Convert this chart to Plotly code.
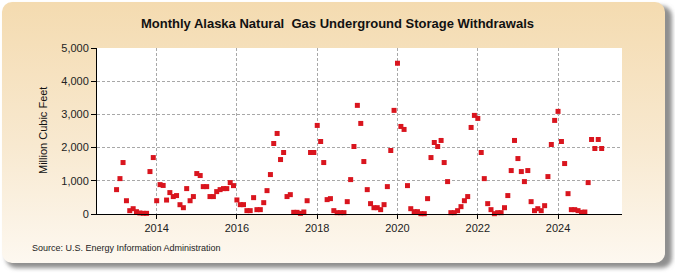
import base64
import pandas as pd
import plotly.graph_objects as go

# ---- data (Million Cubic Feet), monthly from Jan 2013 ----
start_month = "2013-01-01"
v2013 = [734, 1066, 1550, 400, 100, 160, 70, 30, 20, 20, 1278, 1700]
v2014 = [400, 885, 860, 420, 645, 525, 555, 280, 190, 765, 400, 525]
v2015 = [1218, 1158, 825, 825, 525, 525, 674, 734, 765, 765, 946, 855]
v2016 = [423, 282, 282, 101, 101, 493, 131, 131, 342, 704, 1188, 2124]
v2017 = [2426, 1640, 1852, 525, 583, 50, 50, 20, 60, 400, 1852, 1852]
v2018 = [2668, 2184, 1550, 433, 463, 101, 40, 40, 40, 372, 1036, 2033]
v2019 = [3272, 2728, 1580, 734, 312, 190, 190, 131, 282, 825, 1912, 3121]
v2020 = [4541, 2637, 2547, 855, 160, 70, 70, 10, 10, 463, 1700, 2154]
v2021 = [2033, 2215, 1550, 976, 40, 40, 100, 222, 400, 525, 2607, 2970]
v2022 = [2879, 1852, 1066, 312, 131, 10, 40, 40, 190, 555, 1308, 2215]
v2023 = [1670, 1278, 976, 1308, 372, 101, 160, 101, 251, 1127, 2094, 2819]
v2024 = [3091, 2184, 1520, 613, 131, 131, 101, 50, 60, 946, 2245, 1973]
v2025 = [2245, 1973]

values = (v2013 + v2014 + v2015 + v2016 + v2017 + v2018 + v2019 + v2020
          + v2021 + v2022 + v2023 + v2024 + v2025)
months = pd.date_range(start_month, periods=len(values), freq="MS")

title_text = "Monthly Alaska Natural  Gas Underground Storage Withdrawals"
y_title = "Million Cubic Feet"
source_text = "Source: U.S. Energy Information Administration"

# ---- layout geometry ----
W, H = 675, 275
ML, MR, MT, MB = 97, 53, 48, 61
PW, PH = W - ML - MR, H - MT - MB

# background panel (gradient + soft shadow) as an svg image
svg = f'''<svg xmlns="http://www.w3.org/2000/svg" width="{W}" height="{H}" viewBox="0 0 {W} {H}">
<defs>
<linearGradient id="g" x1="0" y1="0" x2="0" y2="1">
<stop offset="0" stop-color="#f4dbb0"/>
<stop offset="0.55" stop-color="#f8e9d0"/>
<stop offset="1" stop-color="#fdf8f0"/>
</linearGradient>
<filter id="s" x="-5%" y="-5%" width="110%" height="110%"><feGaussianBlur stdDeviation="2"/></filter>
</defs>
<rect x="6" y="6" width="666" height="262" rx="10" fill="#8f8f8f" filter="url(#s)"/>
<rect x="2" y="2" width="663" height="261" rx="10" fill="url(#g)"/>
</svg>'''
svg_uri = "data:image/svg+xml;base64," + base64.b64encode(svg.encode()).decode()

fig = go.Figure()
fig.add_trace(go.Scatter(
    x=months, y=values, mode="markers",
    marker=dict(symbol="square", size=5, color="#d9151e", line=dict(width=0)),
    cliponaxis=False, hoverinfo="x+y", showlegend=False,
))

grid = dict(showgrid=True, gridcolor="#a8a8a8", gridwidth=1, griddash="3px,2px")
fig.update_layout(
    width=W, height=H,
    margin=dict(l=ML, r=MR, t=MT, b=MB, pad=0),
    paper_bgcolor="white", plot_bgcolor="white",
    font=dict(family="Liberation Sans, Arial, sans-serif", size=11, color="#222"),
    title=dict(text=f"<b>{title_text}</b>", x=0.5, xanchor="center",
               y=1 - 23 / H, yanchor="middle", yref="container",
               font=dict(size=13, color="#111", family="Liberation Sans, Arial, sans-serif")),
    xaxis=dict(type="date", range=["2012-07-07", "2025-08-05"],
               tick0="2014-01-01", dtick="M24", tickformat="%Y",
               ticks="outside", ticklen=4, tickcolor="#000",
               showline=True, linecolor="#000", linewidth=1,
               zeroline=False, **grid),
    yaxis=dict(range=[0, 5000], tick0=0, dtick=1000, tickformat=",d",
               ticks="outside", ticklen=5, tickcolor="#000",
               showline=True, linecolor="#000", linewidth=1,
               zeroline=False, **grid),
    images=[dict(source=svg_uri, xref="paper", yref="paper",
                 x=-ML / PW, y=1 + MT / PH, sizex=W / PW, sizey=H / PH,
                 xanchor="left", yanchor="top", sizing="stretch", layer="below")],
    shapes=[dict(type="rect", xref="paper", yref="paper", x0=0, x1=1, y0=0, y1=1,
                 fillcolor="white", line=dict(width=0), layer="below")],
    annotations=[
        dict(text=y_title, textangle=-90, xref="paper", yref="paper",
             x=(43 - ML) / PW, y=0.5, xanchor="center", yanchor="middle",
             showarrow=False, font=dict(size=11, color="#111")),
        dict(text=source_text, xref="paper", yref="paper",
             x=(30 - ML) / PW, y=(MT + PH - 248) / PH + 0,
             xanchor="left", yanchor="middle", showarrow=False,
             font=dict(size=9, color="#222")),
    ],
)
# source y: figure px 248 -> paper coords
fig.layout.annotations[1].y = (H - MB - 248) / PH

fig.write_html("out.html")
